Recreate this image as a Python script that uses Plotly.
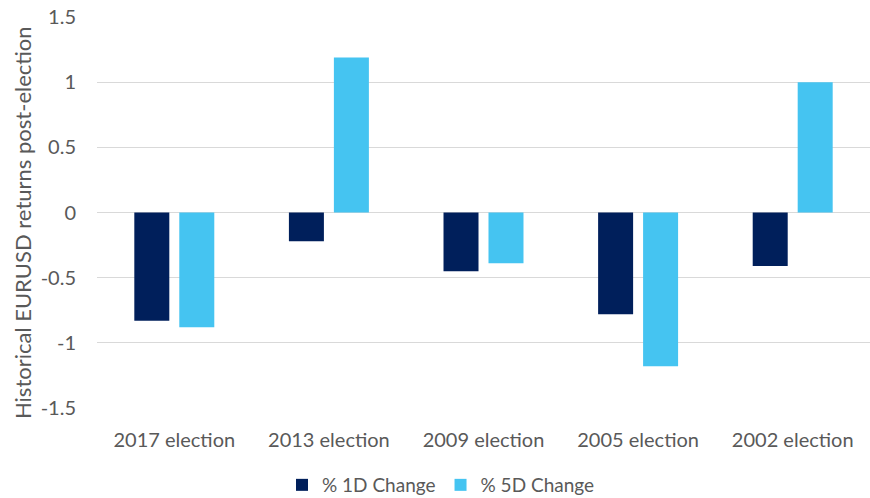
import plotly.graph_objects as go

categories = ["2017 election", "2013 election", "2009 election", "2005 election", "2002 election"]
change_1d = [-0.83, -0.22, -0.45, -0.78, -0.41]
change_5d = [-0.88, 1.19, -0.39, -1.18, 1.0]
series_names = ["% 1D Change", "% 5D Change"]
y_ticks = [1.5, 1, 0.5, 0, -0.5, -1, -1.5]
y_title = "Historical EURUSD returns post-election"

FONT = "Lato"
GREY = "#595959"

fig = go.Figure()
fig.add_trace(go.Bar(x=categories, y=change_1d, name=series_names[0],
                     marker=dict(color="#001F5B", line=dict(width=0))))
fig.add_trace(go.Bar(x=categories, y=change_5d, name=series_names[1],
                     marker=dict(color="#45C4F1", line=dict(width=0))))

fig.update_layout(
    width=870, height=498,
    margin=dict(l=97, r=0, t=17, b=90, autoexpand=False),
    paper_bgcolor="white", plot_bgcolor="white",
    barmode="group", bargap=0.418, bargroupgap=0.222,
    font=dict(family=FONT, size=20, color=GREY),
    showlegend=True,
    legend=dict(orientation="h", xref="paper", yref="paper",
                x=(441 - 97) / 773, xanchor="center", y=(408 - 485) / 391, yanchor="middle",
                font=dict(size=19, color=GREY), itemwidth=30, tracegroupgap=0),
    annotations=[dict(text=y_title, textangle=-90, xref="paper", yref="paper",
                      x=(22 - 97) / 773, y=0.473, xanchor="center", yanchor="middle",
                      showarrow=False, font=dict(family=FONT, size=22, color=GREY))],
)
fig.update_yaxes(range=[-1.5, 1.5], tickvals=y_ticks, ticktext=[str(v) for v in y_ticks],
                 showgrid=True, gridcolor="#D9D9D9", gridwidth=1.3, zeroline=False,
                 showline=False, ticklabelstandoff=20, tickfont=dict(size=20, color=GREY),
                 automargin=False)
fig.update_xaxes(showgrid=False, showline=False, ticklabelstandoff=18,
                 tickfont=dict(size=20, color=GREY), automargin=False)

fig.write_html("out.html", config={"displayModeBar": False},
               post_script="document.body.style.margin='0';document.body.style.overflow='hidden';")
